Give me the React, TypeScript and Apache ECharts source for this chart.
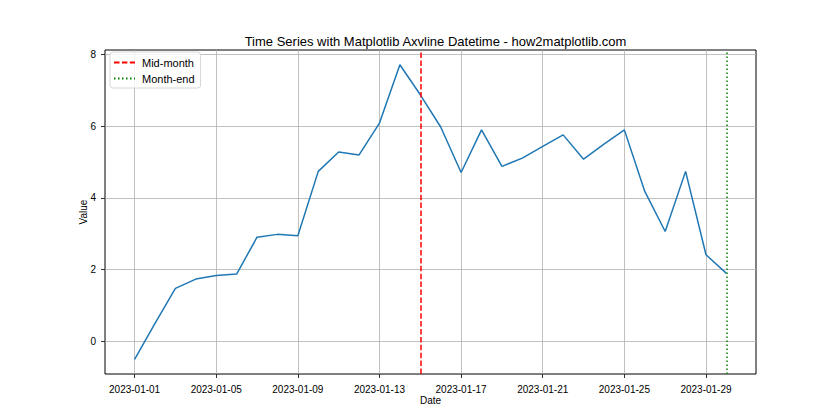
import React, { useEffect, useRef } from "react";
import * as echarts from "echarts";

const dates = [
  "2023-01-01", "2023-01-02", "2023-01-03", "2023-01-04", "2023-01-05",
  "2023-01-06", "2023-01-07", "2023-01-08", "2023-01-09", "2023-01-10",
  "2023-01-11", "2023-01-12", "2023-01-13", "2023-01-14", "2023-01-15",
  "2023-01-16", "2023-01-17", "2023-01-18", "2023-01-19", "2023-01-20",
  "2023-01-21", "2023-01-22", "2023-01-23", "2023-01-24", "2023-01-25",
  "2023-01-26", "2023-01-27", "2023-01-28", "2023-01-29", "2023-01-30",
];
const values = [
  -0.51, 0.49, 1.47, 1.73, 1.83, 1.87, 2.9, 2.98, 2.94, 4.74,
  5.28, 5.2, 6.09, 7.72, 6.88, 5.98, 4.71, 5.9, 4.88, 5.11,
  5.44, 5.76, 5.08, 5.5, 5.9, 4.18, 3.06, 4.74, 2.41, 1.89,
];
const xTickLabels = [
  "2023-01-01", "2023-01-05", "2023-01-09", "2023-01-13",
  "2023-01-17", "2023-01-21", "2023-01-25", "2023-01-29",
];
const yTicks = [0, 2, 4, 6, 8];
const midMonth = "2023-01-15";
const monthEnd = "2023-01-30";

const FONT = "Liberation Sans";

const ts = (d: string) => new Date(d + "T00:00:00Z").getTime();
const fmt = (v: number) => new Date(v).toISOString().slice(0, 10);

export default function App() {
  const ref = useRef<HTMLDivElement>(null);
  useEffect(() => {
    if (!ref.current) return;
    const chart = echarts.init(ref.current, undefined, { renderer: "svg" });
    const t0 = ts(dates[0]);
    const t1 = ts(dates[dates.length - 1]);
    const span = t1 - t0;
    const yMin = Math.min(...values);
    const yMax = Math.max(...values);
    const yr = yMax - yMin;
    chart.setOption({
      animation: false,
      textStyle: { fontFamily: FONT },
      title: {
        text: "Time Series with Matplotlib Axvline Datetime - how2matplotlib.com",
        left: 430.5,
        textAlign: "center",
        top: 30,
        textStyle: { fontFamily: FONT, fontSize: 13, fontWeight: "normal", color: "#000" },
      },
      grid: {
        left: 105,
        right: 84,
        top: 50,
        bottom: 46,
        show: true,
        borderColor: "#000",
        borderWidth: 1,
        backgroundColor: "transparent",
      },
      legend: {
        data: ["Mid-month", "Month-end"],
        orient: "vertical",
        left: 110,
        top: 52,
        itemWidth: 21,
        itemHeight: 12,
        itemGap: 5,
        padding: [5, 6, 4, 3],
        borderColor: "#d6d6d6",
        borderWidth: 1,
        borderRadius: 3,
        backgroundColor: "rgba(255,255,255,0.8)",
        itemStyle: { opacity: 0 },
        textStyle: { fontFamily: FONT, fontSize: 11, color: "#000", padding: [0, 0, 0, 2] },
      },
      xAxis: {
        type: "value",
        min: t0 - span * 0.05,
        max: t1 + span * 0.05,
        name: "Date",
        nameLocation: "middle",
        nameGap: 21,
        nameMoveOverlap: false,
        nameTextStyle: { fontFamily: FONT, fontSize: 10, color: "#000" },
        axisLine: { show: false, onZero: false },
        axisTick: {
          show: true,
          inside: false,
          length: 4,
          lineStyle: { color: "#000", width: 0.8 },
          customValues: xTickLabels.map(ts),
        },
        axisLabel: {
          fontFamily: FONT,
          fontSize: 10,
          color: "#000",
          margin: 10,
          customValues: xTickLabels.map(ts),
          formatter: (v: number) => fmt(v),
          hideOverlap: false,
        },
        splitLine: { show: true, lineStyle: { color: "#b0b0b0", width: 0.8 } },
      },
      yAxis: {
        type: "value",
        min: yMin - yr * 0.05,
        max: yMax + yr * 0.05,
        name: "Value",
        nameLocation: "middle",
        nameGap: 17,
        nameMoveOverlap: false,
        nameRotate: 90,
        nameTextStyle: { fontFamily: FONT, fontSize: 10, color: "#000" },
        axisLine: { show: false, onZero: false },
        axisTick: {
          show: true,
          inside: false,
          length: 4,
          lineStyle: { color: "#000", width: 0.8 },
          customValues: yTicks,
        },
        axisLabel: {
          fontFamily: FONT,
          fontSize: 10,
          color: "#000",
          margin: 9,
          customValues: yTicks,
        },
        splitLine: { show: true, lineStyle: { color: "#b0b0b0", width: 0.8 } },
      },
      series: [
        {
          name: "Value",
          type: "line",
          data: dates.map((d, i) => [ts(d), values[i]]),
          symbol: "none",
          lineStyle: { color: "#1f77b4", width: 1.5 },
          itemStyle: { color: "#1f77b4" },
          z: 3,
        },
        {
          name: "Mid-month",
          type: "line",
          data: [],
          symbol: "none",
          color: "#ff0000",
          lineStyle: { color: "#ff0000", width: 1.5, type: [5.5, 2.4] },
          markLine: {
            silent: true,
            symbol: "none",
            label: { show: false },
            lineStyle: { color: "#ff0000", width: 1.5, type: [5.5, 2.4] },
            data: [{ xAxis: ts(midMonth) }],
          },
          z: 4,
        },
        {
          name: "Month-end",
          type: "line",
          data: [],
          symbol: "none",
          color: "#008000",
          lineStyle: { color: "#008000", width: 1.5, type: [1.5, 2.5] },
          markLine: {
            silent: true,
            symbol: "none",
            label: { show: false },
            lineStyle: { color: "#008000", width: 1.5, type: [1.5, 2.5] },
            data: [{ xAxis: ts(monthEnd) }],
          },
          z: 4,
        },
      ],
    });
    return () => chart.dispose();
  }, []);
  return (
    <div
      ref={ref}
      style={{ position: "fixed", left: 0, top: 0, width: 840, height: 420, background: "#fff" }}
    />
  );
}
